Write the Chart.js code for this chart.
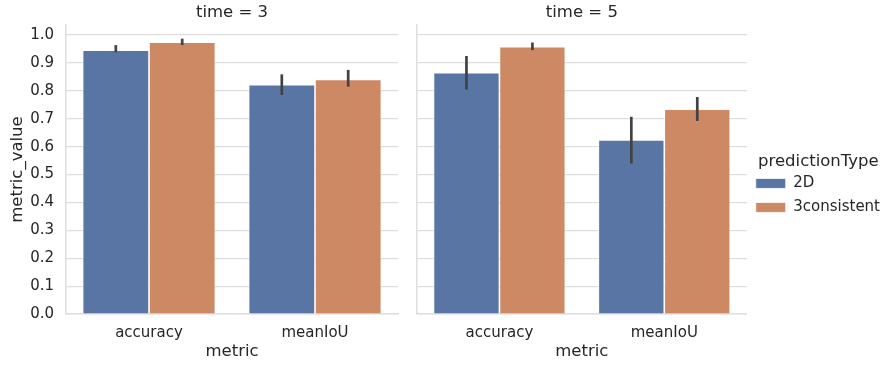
<!DOCTYPE html>
<html>
<head>
<meta charset="utf-8">
<script src="https://cdn.jsdelivr.net/npm/chart.js@4.4.0/dist/chart.umd.min.js"></script>
<style>
  body { margin: 0; background: #fff; }
  #wrap { position: relative; width: 890px; height: 367px; }
  canvas { position: absolute; left: 0; top: 0; }
</style>
</head>
<body>
<div id="wrap">
  <canvas id="c3" width="400" height="367"></canvas>
  <canvas id="c5" width="890" height="367"></canvas>
</div>
<script>
const metrics = ["accuracy", "meanIoU"]
const seriesNames = ["2D", "3consistent"]
const yTicks = [0, 0.1, 0.2, 0.3, 0.4, 0.5, 0.6, 0.7, 0.8, 0.9, 1.0]

// time = 3
const t3_2d = [0.946, 0.822]
const t3_3c = [0.974, 0.841]
const t3_2d_lo = [0.938, 0.785]
const t3_2d_hi = [0.964, 0.859]
const t3_3c_lo = [0.964, 0.815]
const t3_3c_hi = [0.987, 0.875]

// time = 5
const t5_2d = [0.865, 0.624]
const t5_3c = [0.958, 0.734]
const t5_2d_lo = [0.805, 0.540]
const t5_2d_hi = [0.925, 0.707]
const t5_3c_lo = [0.946, 0.692]
const t5_3c_hi = [0.973, 0.778]

const blue = "#5975a4"
const orange = "#cc8963"
const gridColor = "#dedede"
const textColor = "#262626"
const font = "'DejaVu Sans', sans-serif"

Chart.defaults.font.family = font
Chart.defaults.color = textColor
Chart.defaults.animation = false

const errorBars = {
    id: "errorBars",
    afterDatasetsDraw(chart) {
        const ctx = chart.ctx
        const y = chart.scales.y
        ctx.save()
        ctx.strokeStyle = "#424242"
        ctx.lineWidth = 2.7
        chart.data.datasets.forEach((ds, i) => {
            const meta = chart.getDatasetMeta(i)
            meta.data.forEach((bar, j) => {
                ctx.beginPath()
                ctx.moveTo(bar.x, y.getPixelForValue(ds.errLo[j]))
                ctx.lineTo(bar.x, y.getPixelForValue(ds.errHi[j]))
                ctx.stroke()
            })
        })
        ctx.restore()
    },
}

// first = left facet (with y labels); the right facet canvas spans the page,
// its y scale is widened so the plot starts at the second facet
function makeChart(id, title, d2, d3, lo2, hi2, lo3, hi3, first) {
    return new Chart(document.getElementById(id).getContext("2d"), {
        type: "bar",
        data: {
            labels: metrics,
            datasets: [
                { label: seriesNames[0], data: d2, errLo: lo2, errHi: hi2, backgroundColor: blue, borderColor: "#ffffff", borderWidth: 0.8 },
                { label: seriesNames[1], data: d3, errLo: lo3, errHi: hi3, backgroundColor: orange, borderColor: "#ffffff", borderWidth: 0.8 },
            ],
        },
        options: {
            responsive: false,
            maintainAspectRatio: false,
            categoryPercentage: 0.8,
            barPercentage: 1.0,
            layout: { padding: { left: 0, right: first ? 2 : 0, top: 0, bottom: 0 } },
            plugins: {
                title: {
                    display: true,
                    text: title,
                    fullSize: false,
                    color: textColor,
                    font: { size: 16.5, weight: "normal" },
                    padding: { top: 3, bottom: 2.2 },
                },
                legend: first ? { display: false } : {
                    display: true,
                    position: "right",
                    align: "center",
                    title: { display: true, text: "predictionType", color: textColor, font: { size: 16.5 }, padding: { top: 10, bottom: -6 } },
                    labels: { boxWidth: 30, boxHeight: 10, padding: 9, color: textColor, font: { size: 15 } },
                },
                tooltip: { enabled: false },
            },
            scales: {
                x: {
                    grid: { display: false, drawTicks: false },
                    border: { display: true, color: gridColor, width: 1.5 },
                    ticks: { padding: 10, font: { size: 15 }, color: textColor },
                    title: { display: true, text: "metric", font: { size: 16.5 }, color: textColor, padding: { top: 0, bottom: 5.4 } },
                    afterFit: (s) => { s.height = 53 },
                },
                y: {
                    min: 0,
                    max: 1.036,
                    afterBuildTicks: (s) => { s.ticks = yTicks.map((v) => ({ value: v })) },
                    grid: { color: gridColor, lineWidth: 1.2, drawTicks: false },
                    border: { display: true, color: gridColor, width: 1.5 },
                    ticks: { display: first, padding: 12, font: { size: 15 }, color: textColor, callback: (v) => v.toFixed(1) },
                    title: { display: first, text: "metric_value", font: { size: 16.5 }, color: textColor, padding: { top: 8, bottom: 0 } },
                    afterFit: (s) => { s.width = first ? 66 : 417 },
                },
            },
        },
        plugins: [errorBars],
    })
}

makeChart("c3", "time = 3", t3_2d, t3_3c, t3_2d_lo, t3_2d_hi, t3_3c_lo, t3_3c_hi, true)
makeChart("c5", "time = 5", t5_2d, t5_3c, t5_2d_lo, t5_2d_hi, t5_3c_lo, t5_3c_hi, false)
</script>
</body>
</html>
